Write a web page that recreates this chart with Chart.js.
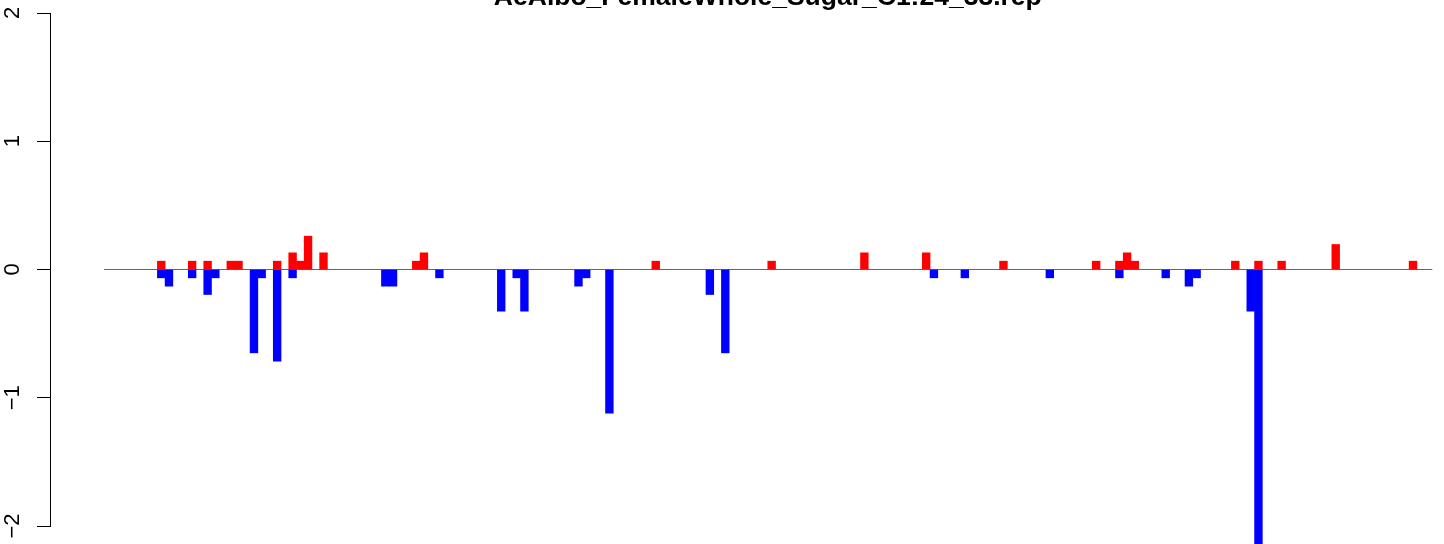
<!DOCTYPE html>
<html>
<head>
<meta charset="utf-8">
<script src="https://cdn.jsdelivr.net/npm/chart.js@4/dist/chart.umd.min.js"></script>
<style>
html, body { margin: 0; padding: 0; background: #fff; overflow: hidden; }
#wrap { position: relative; width: 1444px; height: 544px; }
</style>
</head>
<body>
<div id="wrap"><canvas id="repChart"></canvas></div>
<script>
const chartTitle = 'AeAlbo_FemaleWhole_Sugar_C1:24_33.rep';

// number of positions along the x axis (most are empty)
const slotCount = 172;

// positive values (red)
const redSlots  = [7, 11, 13, 16, 17, 22, 24, 25, 26, 28, 40, 41, 71, 86, 98, 106, 116, 128, 131, 132, 133, 146, 149, 152, 159, 169];
const redValues = [0.065, 0.065, 0.065, 0.065, 0.065, 0.065, 0.13, 0.065, 0.26, 0.13, 0.065, 0.13, 0.065, 0.065, 0.13, 0.13, 0.065, 0.065, 0.065, 0.13, 0.065, 0.065, 0.065, 0.065, 0.195, 0.065];

// negative values (blue)
const blueSlots  = [7, 8, 11, 13, 14, 19, 20, 22, 24, 36, 37, 43, 51, 53, 54, 61, 62, 65, 78, 80, 107, 111, 122, 131, 137, 140, 141, 148, 149];
const blueValues = [-0.065, -0.13, -0.065, -0.195, -0.065, -0.65, -0.065, -0.715, -0.065, -0.13, -0.13, -0.065, -0.325, -0.065, -0.325, -0.13, -0.065, -1.12, -0.195, -0.65, -0.065, -0.065, -0.065, -0.065, -0.065, -0.13, -0.065, -0.325, -2.2];

const yTicks = [-2, -1, 0, 1, 2];

const labels = Array.from({ length: slotCount }, (_, i) => String(i + 1));
const redData = labels.map(() => null);
redSlots.forEach((s, k) => { redData[s] = redValues[k]; });
const blueData = labels.map(() => null);
blueSlots.forEach((s, k) => { blueData[s] = blueValues[k]; });

const FONT = '"Liberation Sans", Arial, Helvetica, sans-serif';

// R style main title, centred over the plot region
const titlePlugin = {
    id: 'repTitle',
    afterDraw(chart) {
        const { ctx, chartArea } = chart;
        ctx.save();
        ctx.font = 'bold 26.5px ' + FONT;
        ctx.fillStyle = '#000';
        ctx.textAlign = 'center';
        ctx.textBaseline = 'alphabetic';
        ctx.fillText(chartTitle, (chartArea.left + chartArea.right) / 2, 5);
        ctx.restore();
    }
};

new Chart(document.getElementById('repChart'), {
    type: 'bar',
    data: {
        labels: labels,
        datasets: [{
            label: 'up',
            data: redData,
            backgroundColor: '#ff0000',
            borderWidth: 0,
            grouped: false,
            barPercentage: 1,
            categoryPercentage: 1,
            clip: false
        }, {
            label: 'down',
            data: blueData,
            backgroundColor: '#0000ff',
            borderWidth: 0,
            grouped: false,
            barPercentage: 1,
            categoryPercentage: 1,
            clip: false
        }]
    },
    options: {
        responsive: true,
        maintainAspectRatio: false,
        animation: false,
        events: [],
        layout: { padding: { top: 13, bottom: 18, left: 0, right: 11.7 } },
        plugins: {
            legend: { display: false },
            tooltip: { enabled: false }
        },
        scales: {
            x: {
                type: 'category',
                display: false,
                offset: true
            },
            y: {
                position: 'left',
                weight: 1,
                min: -2,
                max: 2,
                afterBuildTicks: s => { s.ticks = yTicks.map(v => ({ value: v })); },
                afterFit: s => {
                    s.width = 50;
                    // labels may overhang; keep the plot edges at the layout padding
                    s.paddingTop = 0;
                    s.paddingBottom = 0;
                },
                ticks: {
                    minRotation: 90,
                    maxRotation: 90,
                    crossAlign: 'center',
                    padding: 12,
                    color: '#000',
                    font: { family: FONT, size: 22 },
                    callback: v => v < 0 ? '\u2212' + Math.abs(v) : String(v)
                },
                grid: {
                    color: c => (c.tick && c.tick.value === 0) ? '#666666' : 'rgba(0,0,0,0)',
                    tickColor: '#000',
                    tickLength: 13,
                    lineWidth: 1
                },
                border: { display: true, color: '#000', width: 1 }
            },
            // empty gap between the axis line and the plot region
            yGap: {
                position: 'left',
                weight: 0,
                min: -2,
                max: 2,
                ticks: { display: false },
                grid: { display: false },
                border: { display: false },
                afterFit: s => {
                    s.width = 53.3;
                    s.paddingTop = 0;
                    s.paddingBottom = 0;
                }
            }
        }
    },
    plugins: [titlePlugin]
});
</script>
</body>
</html>
